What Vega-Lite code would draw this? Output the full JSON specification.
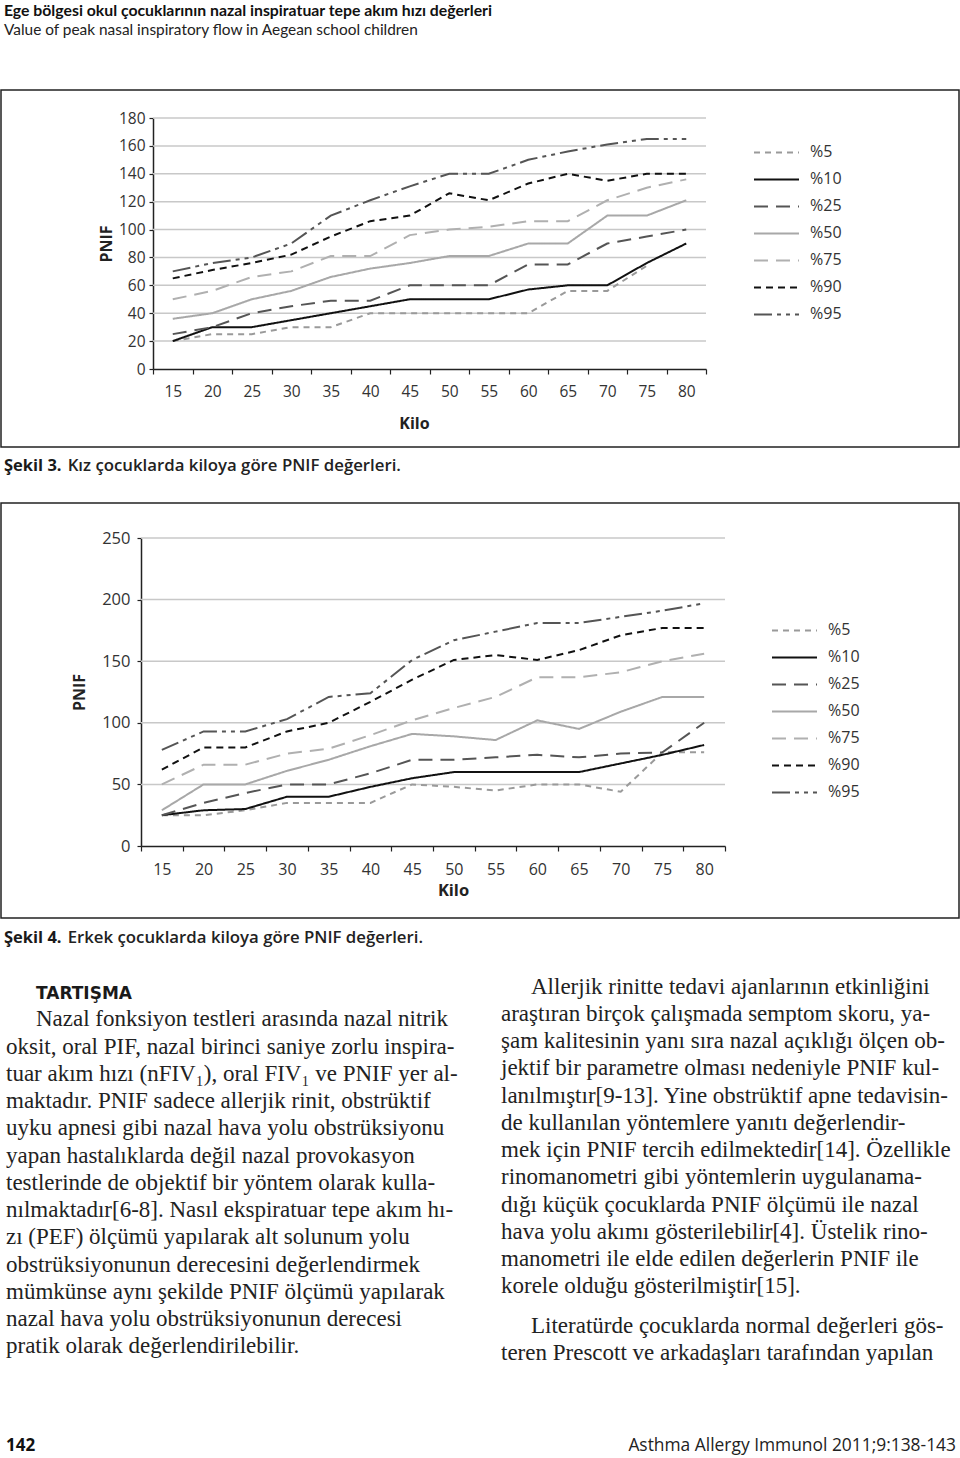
{
  "$schema": "https://vega.github.io/schema/vega-lite/v6.json",
  "padding": 0,
  "spacing": 0,
  "bounds": "flush",
  "background": "white",
  "resolve": {"scale": {"color": "independent", "strokeDash": "independent"}, "legend": {"color": "independent", "strokeDash": "independent"}},
  "config": {"view": {"stroke": null}, "font": "Open Sans"},
  "datasets": {
    "girls": [
      {"k":15,"p":"%5","v":20},{"k":20,"p":"%5","v":25},{"k":25,"p":"%5","v":25},{"k":30,"p":"%5","v":30},{"k":35,"p":"%5","v":30},{"k":40,"p":"%5","v":40},{"k":45,"p":"%5","v":40},{"k":50,"p":"%5","v":40},{"k":55,"p":"%5","v":40},{"k":60,"p":"%5","v":40},{"k":65,"p":"%5","v":56},{"k":70,"p":"%5","v":56},{"k":75,"p":"%5","v":74},
      {"k":15,"p":"%10","v":20},{"k":20,"p":"%10","v":30},{"k":25,"p":"%10","v":30},{"k":30,"p":"%10","v":35},{"k":35,"p":"%10","v":40},{"k":40,"p":"%10","v":45},{"k":45,"p":"%10","v":50},{"k":50,"p":"%10","v":50},{"k":55,"p":"%10","v":50},{"k":60,"p":"%10","v":57},{"k":65,"p":"%10","v":60},{"k":70,"p":"%10","v":60},{"k":75,"p":"%10","v":76},{"k":80,"p":"%10","v":90},
      {"k":15,"p":"%25","v":25},{"k":20,"p":"%25","v":30},{"k":25,"p":"%25","v":40},{"k":30,"p":"%25","v":45},{"k":35,"p":"%25","v":49},{"k":40,"p":"%25","v":49},{"k":45,"p":"%25","v":60},{"k":50,"p":"%25","v":60},{"k":55,"p":"%25","v":60},{"k":60,"p":"%25","v":75},{"k":65,"p":"%25","v":75},{"k":70,"p":"%25","v":90},{"k":75,"p":"%25","v":95},{"k":80,"p":"%25","v":100},
      {"k":15,"p":"%50","v":36},{"k":20,"p":"%50","v":40},{"k":25,"p":"%50","v":50},{"k":30,"p":"%50","v":56},{"k":35,"p":"%50","v":66},{"k":40,"p":"%50","v":72},{"k":45,"p":"%50","v":76},{"k":50,"p":"%50","v":81},{"k":55,"p":"%50","v":81},{"k":60,"p":"%50","v":90},{"k":65,"p":"%50","v":90},{"k":70,"p":"%50","v":110},{"k":75,"p":"%50","v":110},{"k":80,"p":"%50","v":121},
      {"k":15,"p":"%75","v":50},{"k":20,"p":"%75","v":56},{"k":25,"p":"%75","v":66},{"k":30,"p":"%75","v":70},{"k":35,"p":"%75","v":81},{"k":40,"p":"%75","v":81},{"k":45,"p":"%75","v":96},{"k":50,"p":"%75","v":100},{"k":55,"p":"%75","v":102},{"k":60,"p":"%75","v":106},{"k":65,"p":"%75","v":106},{"k":70,"p":"%75","v":121},{"k":75,"p":"%75","v":130},{"k":80,"p":"%75","v":136},
      {"k":15,"p":"%90","v":65},{"k":20,"p":"%90","v":71},{"k":25,"p":"%90","v":76},{"k":30,"p":"%90","v":82},{"k":35,"p":"%90","v":95},{"k":40,"p":"%90","v":106},{"k":45,"p":"%90","v":110},{"k":50,"p":"%90","v":126},{"k":55,"p":"%90","v":121},{"k":60,"p":"%90","v":133},{"k":65,"p":"%90","v":140},{"k":70,"p":"%90","v":135},{"k":75,"p":"%90","v":140},{"k":80,"p":"%90","v":140},
      {"k":15,"p":"%95","v":70},{"k":20,"p":"%95","v":76},{"k":25,"p":"%95","v":80},{"k":30,"p":"%95","v":90},{"k":35,"p":"%95","v":110},{"k":40,"p":"%95","v":121},{"k":45,"p":"%95","v":131},{"k":50,"p":"%95","v":140},{"k":55,"p":"%95","v":140},{"k":60,"p":"%95","v":150},{"k":65,"p":"%95","v":156},{"k":70,"p":"%95","v":161},{"k":75,"p":"%95","v":165},{"k":80,"p":"%95","v":165}
    ],
    "boys": [
      {"k":15,"p":"%5","v":25},{"k":20,"p":"%5","v":25},{"k":25,"p":"%5","v":29},{"k":30,"p":"%5","v":35},{"k":35,"p":"%5","v":35},{"k":40,"p":"%5","v":35},{"k":45,"p":"%5","v":50},{"k":50,"p":"%5","v":48},{"k":55,"p":"%5","v":45},{"k":60,"p":"%5","v":50},{"k":65,"p":"%5","v":50},{"k":70,"p":"%5","v":44},{"k":75,"p":"%5","v":76},{"k":80,"p":"%5","v":76},
      {"k":15,"p":"%10","v":25},{"k":20,"p":"%10","v":29},{"k":25,"p":"%10","v":30},{"k":30,"p":"%10","v":40},{"k":35,"p":"%10","v":40},{"k":40,"p":"%10","v":48},{"k":45,"p":"%10","v":55},{"k":50,"p":"%10","v":60},{"k":55,"p":"%10","v":60},{"k":60,"p":"%10","v":60},{"k":65,"p":"%10","v":60},{"k":70,"p":"%10","v":67},{"k":75,"p":"%10","v":74},{"k":80,"p":"%10","v":82},
      {"k":15,"p":"%25","v":25},{"k":20,"p":"%25","v":35},{"k":25,"p":"%25","v":43},{"k":30,"p":"%25","v":50},{"k":35,"p":"%25","v":50},{"k":40,"p":"%25","v":59},{"k":45,"p":"%25","v":70},{"k":50,"p":"%25","v":70},{"k":55,"p":"%25","v":72},{"k":60,"p":"%25","v":74},{"k":65,"p":"%25","v":72},{"k":70,"p":"%25","v":75},{"k":75,"p":"%25","v":76},{"k":80,"p":"%25","v":100},
      {"k":15,"p":"%50","v":29},{"k":20,"p":"%50","v":50},{"k":25,"p":"%50","v":50},{"k":30,"p":"%50","v":61},{"k":35,"p":"%50","v":70},{"k":40,"p":"%50","v":81},{"k":45,"p":"%50","v":91},{"k":50,"p":"%50","v":89},{"k":55,"p":"%50","v":86},{"k":60,"p":"%50","v":102},{"k":65,"p":"%50","v":95},{"k":70,"p":"%50","v":109},{"k":75,"p":"%50","v":121},{"k":80,"p":"%50","v":121},
      {"k":15,"p":"%75","v":50},{"k":20,"p":"%75","v":66},{"k":25,"p":"%75","v":66},{"k":30,"p":"%75","v":75},{"k":35,"p":"%75","v":79},{"k":40,"p":"%75","v":90},{"k":45,"p":"%75","v":102},{"k":50,"p":"%75","v":112},{"k":55,"p":"%75","v":121},{"k":60,"p":"%75","v":137},{"k":65,"p":"%75","v":137},{"k":70,"p":"%75","v":141},{"k":75,"p":"%75","v":150},{"k":80,"p":"%75","v":156},
      {"k":15,"p":"%90","v":62},{"k":20,"p":"%90","v":80},{"k":25,"p":"%90","v":80},{"k":30,"p":"%90","v":93},{"k":35,"p":"%90","v":100},{"k":40,"p":"%90","v":117},{"k":45,"p":"%90","v":135},{"k":50,"p":"%90","v":151},{"k":55,"p":"%90","v":155},{"k":60,"p":"%90","v":151},{"k":65,"p":"%90","v":159},{"k":70,"p":"%90","v":171},{"k":75,"p":"%90","v":177},{"k":80,"p":"%90","v":177},
      {"k":15,"p":"%95","v":78},{"k":20,"p":"%95","v":93},{"k":25,"p":"%95","v":93},{"k":30,"p":"%95","v":103},{"k":35,"p":"%95","v":121},{"k":40,"p":"%95","v":124},{"k":45,"p":"%95","v":151},{"k":50,"p":"%95","v":167},{"k":55,"p":"%95","v":174},{"k":60,"p":"%95","v":181},{"k":65,"p":"%95","v":181},{"k":70,"p":"%95","v":186},{"k":75,"p":"%95","v":191},{"k":80,"p":"%95","v":197}
    ]
  },
  "vconcat": [
    {
      "width": 960, "height": 90,
      "data": {"values": [
        {"c":0,"ln":0,"w":"b","t":"Ege bölgesi okul çocuklarının nazal inspiratuar tepe akım hızı değerleri"},
        {"c":0,"ln":1,"w":"n","t":"Value of peak nasal inspiratory flow in Aegean school children"}
      ]},
      "encoding": {
        "x": {"field":"c","type":"quantitative","scale":{"domain":[0,1],"range":[3,960],"nice":false,"zero":false},"axis":null},
        "y": {"field":"ln","type":"quantitative","scale":{"domain":[0,1],"range":[15.5,34.5],"nice":false,"zero":false},"axis":null},
        "text": {"field":"t"}
      },
      "layer": [
        {"transform":[{"filter":"datum.w=='b'"}],"mark":{"type":"text","align":"left","baseline":"alphabetic","font":"Lato","fontSize":15.8,"fontWeight":"bold","color":"#111"}},
        {"transform":[{"filter":"datum.w=='n'"}],"mark":{"type":"text","align":"left","baseline":"alphabetic","font":"Lato","fontSize":15.4,"color":"#222"}}
      ]
    },
    {
      "width": 958, "height": 357,
      "view": {"stroke": "#222", "strokeWidth": 1.5},
      "layer": [
        {
          "data": {"values": [{"g":20},{"g":40},{"g":60},{"g":80},{"g":100},{"g":120},{"g":140},{"g":160},{"g":180}]},
          "mark": {"type":"rule","color":"#c8c8c8","strokeWidth":1.5},
          "encoding": {
            "y": {"field":"g","type":"quantitative",
                  "axis":{"orient":"left","offset":-152,"values":[0,20,40,60,80,100,120,140,160,180],"grid":false,"labelOverlap":false,
                          "domainColor":"#222","domainWidth":1.5,"tickColor":"#222","tickSize":4,"tickWidth":1.2,
                          "labelFont":"Open Sans","labelFontSize":15.5,"labelColor":"#333","labelPadding":4,
                          "title":"PNIF","titleFont":"Open Sans","titleFontSize":16,"titleFontWeight":"bold","titleColor":"#222","titlePadding":4}},
            "x": {"datum":12.5,"type":"quantitative"},
            "x2": {"datum":82.5}
          }
        },
        {
          "data": {"name":"girls"},
          "mark": {"type":"line","strokeWidth":2},
          "encoding": {
            "x": {"field":"k","type":"quantitative","scale":{"domain":[12.5,82.5],"range":[152,705],"nice":false,"zero":false},
                  "axis":{"orient":"bottom","offset":-78,"values":[12.5,17.5,22.5,27.5,32.5,37.5,42.5,47.5,52.5,57.5,62.5,67.5,72.5,77.5,82.5],
                          "labelExpr":"datum.value < 80 ? format(datum.value + 2.5, 'd') : ''","labelOffset":19.75,"labelOverlap":false,"labelFlush":false,
                          "grid":false,"domainColor":"#222","domainWidth":1.5,"tickColor":"#222","tickSize":5,"tickWidth":1.2,
                          "labelFont":"Open Sans","labelFontSize":15.5,"labelColor":"#333","labelPadding":10,
                          "title":"Kilo","titleFont":"Open Sans","titleFontSize":16,"titleFontWeight":"bold","titleColor":"#222","titlePadding":16,"titleX":413}},
            "y": {"field":"v","type":"quantitative","scale":{"domain":[0,180],"range":[279,28],"nice":false,"zero":false},
                  "axis":{"orient":"left","offset":-152,"values":[0,20,40,60,80,100,120,140,160,180],"grid":false,"labelOverlap":false,
                          "domainColor":"#222","domainWidth":1.5,"tickColor":"#222","tickSize":4,"tickWidth":1.2,
                          "labelFont":"Open Sans","labelFontSize":15.5,"labelColor":"#333","labelPadding":4,
                          "title":"PNIF","titleFont":"Open Sans","titleFontSize":16,"titleFontWeight":"bold","titleColor":"#222","titlePadding":4}},
            "color": {"field":"p","type":"nominal",
                      "scale":{"domain":["%5","%10","%25","%50","%75","%90","%95"],"range":["#9a9a9a","#111111","#555555","#a8a8a8","#b0b0b0","#111111","#555555"]},
                      "legend":{"title":null,"orient":"none","legendX":752,"legendY":49,"symbolType":"stroke","symbolSize":2025,"symbolStrokeWidth":2,
                                "labelFont":"Open Sans","labelFontSize":16,"labelColor":"#333","labelOffset":10,"clipHeight":26.8,"rowPadding":0}},
            "strokeDash": {"field":"p","type":"nominal",
                      "scale":{"domain":["%5","%10","%25","%50","%75","%90","%95"],"range":[[6,5],[1,0],[14,8],[1,0],[14,8],[7,5],[18,5,4,5,4,5]]},
                      "legend":{"title":null,"orient":"none","legendX":752,"legendY":49,"symbolType":"stroke","symbolSize":2025,"symbolStrokeWidth":2,
                                "labelFont":"Open Sans","labelFontSize":16,"labelColor":"#333","labelOffset":10,"clipHeight":26.8,"rowPadding":0}}
          }
        }
      ]
    },
    {
      "width": 960, "height": 56,
      "data": {"values": [
        {"c":0,"ln":0,"s":"b","t":"Şekil 3."},
        {"c":0.0665,"ln":0,"s":"n","t":"Kız çocuklarda kiloya göre PNIF değerleri."}
      ]},
      "encoding": {
        "x": {"field":"c","type":"quantitative","scale":{"domain":[0,1],"range":[3,960],"nice":false,"zero":false},"axis":null},
        "y": {"field":"ln","type":"quantitative","scale":{"domain":[0,1],"range":[24,25],"nice":false,"zero":false},"axis":null},
        "text": {"field":"t"}
      },
      "layer": [
        {"transform":[{"filter":"datum.s=='b'"}],"mark":{"type":"text","align":"left","baseline":"alphabetic","font":"Open Sans","fontSize":16.5,"fontWeight":"bold","color":"#1a1a1a"}},
        {"transform":[{"filter":"datum.s=='n'"}],"mark":{"type":"text","align":"left","baseline":"alphabetic","font":"Open Sans","fontSize":16.8,"fontWeight":600,"color":"#222"}}
      ]
    },
    {
      "width": 958, "height": 415,
      "view": {"stroke": "#222", "strokeWidth": 1.5},
      "layer": [
        {
          "data": {"values": [{"g":50},{"g":100},{"g":150},{"g":200},{"g":250}]},
          "mark": {"type":"rule","color":"#c8c8c8","strokeWidth":1.5},
          "encoding": {
            "y": {"field":"g","type":"quantitative",
                  "axis":{"orient":"left","offset":-140,"values":[0,50,100,150,200,250],"grid":false,"labelOverlap":false,
                          "domainColor":"#222","domainWidth":1.5,"tickColor":"#222","tickSize":4,"tickWidth":1.2,
                          "labelFont":"Open Sans","labelFontSize":16.5,"labelColor":"#333","labelPadding":7,
                          "title":"PNIF","titleFont":"Open Sans","titleFontSize":16,"titleFontWeight":"bold","titleColor":"#222","titlePadding":14}},
            "x": {"datum":12.5,"type":"quantitative"},
            "x2": {"datum":82.5}
          }
        },
        {
          "data": {"name":"boys"},
          "mark": {"type":"line","strokeWidth":2},
          "encoding": {
            "x": {"field":"k","type":"quantitative","scale":{"domain":[12.5,82.5],"range":[140,724],"nice":false,"zero":false},
                  "axis":{"orient":"bottom","offset":-72,"values":[12.5,17.5,22.5,27.5,32.5,37.5,42.5,47.5,52.5,57.5,62.5,67.5,72.5,77.5,82.5],
                          "labelExpr":"datum.value < 80 ? format(datum.value + 2.5, 'd') : ''","labelOffset":20.86,"labelOverlap":false,"labelFlush":false,
                          "grid":false,"domainColor":"#222","domainWidth":1.5,"tickColor":"#222","tickSize":5,"tickWidth":1.2,
                          "labelFont":"Open Sans","labelFontSize":16,"labelColor":"#333","labelPadding":10,
                          "title":"Kilo","titleFont":"Open Sans","titleFontSize":16.5,"titleFontWeight":"bold","titleColor":"#222","titlePadding":5,"titleX":452}},
            "y": {"field":"v","type":"quantitative","scale":{"domain":[0,250],"range":[343,35],"nice":false,"zero":false},
                  "axis":{"orient":"left","offset":-140,"values":[0,50,100,150,200,250],"grid":false,"labelOverlap":false,
                          "domainColor":"#222","domainWidth":1.5,"tickColor":"#222","tickSize":4,"tickWidth":1.2,
                          "labelFont":"Open Sans","labelFontSize":16.5,"labelColor":"#333","labelPadding":7,
                          "title":"PNIF","titleFont":"Open Sans","titleFontSize":16,"titleFontWeight":"bold","titleColor":"#222","titlePadding":14}},
            "color": {"field":"p","type":"nominal",
                      "scale":{"domain":["%5","%10","%25","%50","%75","%90","%95"],"range":["#9a9a9a","#111111","#555555","#a8a8a8","#b0b0b0","#111111","#555555"]},
                      "legend":{"title":null,"orient":"none","legendX":770,"legendY":114,"symbolType":"stroke","symbolSize":2025,"symbolStrokeWidth":2,
                                "labelFont":"Open Sans","labelFontSize":16,"labelColor":"#333","labelOffset":10,"clipHeight":26.8,"rowPadding":0}},
            "strokeDash": {"field":"p","type":"nominal",
                      "scale":{"domain":["%5","%10","%25","%50","%75","%90","%95"],"range":[[6,5],[1,0],[14,8],[1,0],[14,8],[7,5],[18,5,4,5,4,5]]},
                      "legend":{"title":null,"orient":"none","legendX":770,"legendY":114,"symbolType":"stroke","symbolSize":2025,"symbolStrokeWidth":2,
                                "labelFont":"Open Sans","labelFontSize":16,"labelColor":"#333","labelOffset":10,"clipHeight":26.8,"rowPadding":0}}
          }
        }
      ]
    },
    {
      "width": 960, "height": 42,
      "data": {"values": [
        {"c":0,"ln":0,"s":"b","t":"Şekil 4."},
        {"c":0.0665,"ln":0,"s":"n","t":"Erkek çocuklarda kiloya göre PNIF değerleri."}
      ]},
      "encoding": {
        "x": {"field":"c","type":"quantitative","scale":{"domain":[0,1],"range":[3,960],"nice":false,"zero":false},"axis":null},
        "y": {"field":"ln","type":"quantitative","scale":{"domain":[0,1],"range":[25,26],"nice":false,"zero":false},"axis":null},
        "text": {"field":"t"}
      },
      "layer": [
        {"transform":[{"filter":"datum.s=='b'"}],"mark":{"type":"text","align":"left","baseline":"alphabetic","font":"Open Sans","fontSize":16.5,"fontWeight":"bold","color":"#1a1a1a"}},
        {"transform":[{"filter":"datum.s=='n'"}],"mark":{"type":"text","align":"left","baseline":"alphabetic","font":"Open Sans","fontSize":16.8,"fontWeight":600,"color":"#222"}}
      ]
    },
    {
      "width": 960, "height": 440,
      "data": {"values": [
        {"c":0.0606,"ln":0.2,"s":"h","t":"TARTIŞMA"},
        {"c":0.0606,"ln":1.21,"s":"b","t":"Nazal fonksiyon testleri arasında nazal nitrik"},
        {"c":0,"ln":2.21,"s":"b","t":"oksit, oral PIF, nazal birinci saniye zorlu inspira-"},
        {"c":0,"ln":3.21,"s":"b","t":"tuar akım hızı (nFIV₁), oral FIV₁ ve PNIF yer al-"},
        {"c":0,"ln":4.21,"s":"b","t":"maktadır. PNIF sadece allerjik rinit, obstrüktif"},
        {"c":0,"ln":5.21,"s":"b","t":"uyku apnesi gibi nazal hava yolu obstrüksiyonu"},
        {"c":0,"ln":6.21,"s":"b","t":"yapan hastalıklarda değil nazal provokasyon"},
        {"c":0,"ln":7.21,"s":"b","t":"testlerinde de objektif bir yöntem olarak kulla-"},
        {"c":0,"ln":8.21,"s":"b","t":"nılmaktadır[6-8]. Nasıl ekspiratuar tepe akım hı-"},
        {"c":0,"ln":9.21,"s":"b","t":"zı (PEF) ölçümü yapılarak alt solunum yolu"},
        {"c":0,"ln":10.21,"s":"b","t":"obstrüksiyonunun derecesini değerlendirmek"},
        {"c":0,"ln":11.21,"s":"b","t":"mümkünse aynı şekilde PNIF ölçümü yapılarak"},
        {"c":0,"ln":12.21,"s":"b","t":"nazal hava yolu obstrüksiyonunun derecesi"},
        {"c":0,"ln":13.21,"s":"b","t":"pratik olarak değerlendirilebilir."},
        {"c":1.0606,"ln":0,"s":"b","t":"Allerjik rinitte tedavi ajanlarının etkinliğini"},
        {"c":1,"ln":1,"s":"b","t":"araştıran birçok çalışmada semptom skoru, ya-"},
        {"c":1,"ln":2,"s":"b","t":"şam kalitesinin yanı sıra nazal açıklığı ölçen ob-"},
        {"c":1,"ln":3,"s":"b","t":"jektif bir parametre olması nedeniyle PNIF kul-"},
        {"c":1,"ln":4,"s":"b","t":"lanılmıştır[9-13]. Yine obstrüktif apne tedavisin-"},
        {"c":1,"ln":5,"s":"b","t":"de kullanılan yöntemlere yanıtı değerlendir-"},
        {"c":1,"ln":6,"s":"b","t":"mek için PNIF tercih edilmektedir[14]. Özellikle"},
        {"c":1,"ln":7,"s":"b","t":"rinomanometri gibi yöntemlerin uygulanama-"},
        {"c":1,"ln":8,"s":"b","t":"dığı küçük çocuklarda PNIF ölçümü ile nazal"},
        {"c":1,"ln":9,"s":"b","t":"hava yolu akımı gösterilebilir[4]. Üstelik rino-"},
        {"c":1,"ln":10,"s":"b","t":"manometri ile elde edilen değerlerin PNIF ile"},
        {"c":1,"ln":11,"s":"b","t":"korele olduğu gösterilmiştir[15]."},
        {"c":1.0606,"ln":12.45,"s":"b","t":"Literatürde çocuklarda normal değerleri gös-"},
        {"c":1,"ln":13.45,"s":"b","t":"teren Prescott ve arkadaşları tarafından yapılan"}
      ]},
      "encoding": {
        "x": {"field":"c","type":"quantitative","scale":{"domain":[0,1],"range":[5,500],"nice":false,"zero":false},"axis":null},
        "y": {"field":"ln","type":"quantitative","scale":{"domain":[0,10],"range":[33.5,306],"nice":false,"zero":false},"axis":null},
        "text": {"field":"t"}
      },
      "layer": [
        {"transform":[{"filter":"datum.s=='h'"}],"mark":{"type":"text","align":"left","baseline":"alphabetic","font":"DejaVu Sans","fontSize":17,"fontWeight":"bold","color":"#1a1a1a"}},
        {"transform":[{"filter":"datum.s=='b'"}],"mark":{"type":"text","align":"left","baseline":"alphabetic","font":"Liberation Serif","fontSize":23,"color":"#222"}}
      ]
    },
    {
      "width": 960, "height": 58,
      "data": {"values": [
        {"c":0,"ln":0,"s":"l","t":"142"},
        {"c":1,"ln":0,"s":"r","t":"Asthma Allergy Immunol 2011;9:138-143"}
      ]},
      "encoding": {
        "x": {"field":"c","type":"quantitative","scale":{"domain":[0,1],"range":[5,955],"nice":false,"zero":false},"axis":null},
        "y": {"field":"ln","type":"quantitative","scale":{"domain":[0,1],"range":[51,52],"nice":false,"zero":false},"axis":null},
        "text": {"field":"t"}
      },
      "layer": [
        {"transform":[{"filter":"datum.s=='l'"}],"mark":{"type":"text","align":"left","baseline":"alphabetic","font":"Open Sans","fontSize":17,"fontWeight":"bold","color":"#111"}},
        {"transform":[{"filter":"datum.s=='r'"}],"mark":{"type":"text","align":"right","baseline":"alphabetic","font":"Open Sans","fontSize":17.4,"color":"#222"}}
      ]
    }
  ]
}
